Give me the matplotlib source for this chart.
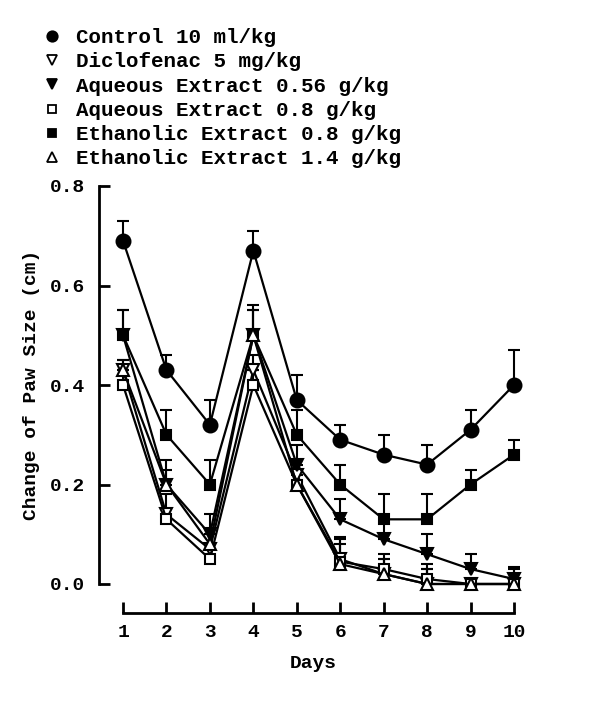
import numpy as np
import matplotlib
matplotlib.use("Agg")
import matplotlib.pyplot as plt
from matplotlib.lines import Line2D

plt.rcParams['font.family'] = ['Liberation Mono', 'DejaVu Sans']
plt.rcParams['font.weight'] = 'bold'
plt.rcParams['axes.labelweight'] = 'bold'

days = [1, 2, 3, 4, 5, 6, 7, 8, 9, 10]

control = [0.69, 0.43, 0.32, 0.67, 0.37, 0.29, 0.26, 0.24, 0.31, 0.40]
control_err = [0.04, 0.03, 0.05, 0.04, 0.05, 0.03, 0.04, 0.04, 0.04, 0.07]

diclo = [0.43, 0.14, 0.07, 0.43, 0.22, 0.05, 0.02, 0.00, 0.00, 0.00]
diclo_err = [0.02, 0.04, 0.03, 0.03, 0.03, 0.04, 0.03, 0.03, 0.01, 0.02]

aq056 = [0.50, 0.20, 0.10, 0.50, 0.24, 0.13, 0.09, 0.06, 0.03, 0.01]
aq056_err = [0.05, 0.05, 0.04, 0.05, 0.04, 0.04, 0.04, 0.04, 0.03, 0.025]

aq08 = [0.40, 0.13, 0.05, 0.40, 0.20, 0.045, 0.03, 0.01, 0.00, 0.00]
aq08_err = [0.03, 0.02, 0.03, 0.03, 0.03, 0.05, 0.03, 0.03, 0.01, 0.02]

eth08 = [0.50, 0.30, 0.20, 0.50, 0.30, 0.20, 0.13, 0.13, 0.20, 0.26]
eth08_err = [0.05, 0.05, 0.05, 0.06, 0.05, 0.04, 0.05, 0.05, 0.03, 0.03]

eth14 = [0.43, 0.20, 0.08, 0.50, 0.20, 0.04, 0.02, 0.00, 0.00, 0.00]
eth14_err = [0.02, 0.03, 0.03, 0.05, 0.03, 0.04, 0.03, 0.03, 0.01, 0.03]

labels = ["Control 10 ml/kg", "Diclofenac 5 mg/kg", "Aqueous Extract 0.56 g/kg",
          "Aqueous Extract 0.8 g/kg", "Ethanolic Extract 0.8 g/kg",
          "Ethanolic Extract 1.4 g/kg"]

series = [
    (control, control_err, 'o', 'black', 10),
    (diclo, diclo_err, 'v', 'white', 9),
    (aq056, aq056_err, 'v', 'black', 9),
    (aq08, aq08_err, 's', 'white', 7.5),
    (eth08, eth08_err, 's', 'black', 7.5),
    (eth14, eth14_err, '^', 'white', 9),
]

fig = plt.figure(figsize=(6, 7.14), dpi=100)
ax = fig.add_axes([99 / 600, 1 - 584 / 714, 428 / 600, 398 / 714])

handles = []
for (vals, err, mk, fc, ms), lab in zip(series, labels):
    lo = np.zeros(len(vals))
    ax.errorbar(days, vals, yerr=[lo, err], fmt='none', ecolor='black',
                elinewidth=1.5, capsize=4, capthick=1.5, clip_on=False, zorder=2)
    ax.plot(days, vals, color='black', lw=1.6, marker=mk, ms=ms,
            mfc=fc, mec='black', mew=1.5, clip_on=False, zorder=3)
    handles.append(Line2D([], [], ls='none', marker=mk, ms=ms * 0.75,
                          mfc=fc, mec='black', mew=1.3, label=lab))

ax.set_xlim(0.447, 10.3)
ax.set_ylim(0, 0.8)
ax.set_yticks([0.0, 0.2, 0.4, 0.6, 0.8])
ax.set_yticklabels(["0.0", "0.2", "0.4", "0.6", "0.8"])
ax.set_xticks(days)

for s in ['top', 'right']:
    ax.spines[s].set_visible(False)
ax.spines['left'].set_bounds(0, 0.8)
ax.spines['left'].set_linewidth(2)
ax.spines['bottom'].set_position(('outward', 21))
ax.spines['bottom'].set_bounds(1, 10)
ax.spines['bottom'].set_linewidth(2)

ax.tick_params(axis='y', direction='in', length=8, width=2, labelsize=14, pad=10)
ax.tick_params(axis='x', direction='in', length=8, width=2, labelsize=14, pad=8)

ax.set_xlabel("Days", fontsize=14, labelpad=10)
ax.set_ylabel("Change of Paw Size (cm)", fontsize=14, labelpad=7)

fig.legend(handles=handles, loc='upper left', bbox_to_anchor=(0.055, 0.975),
           frameon=False, fontsize=15, handlelength=0.8, handletextpad=0.75,
           labelspacing=0.25, borderpad=0)

fig.savefig("out.png", dpi=100)
